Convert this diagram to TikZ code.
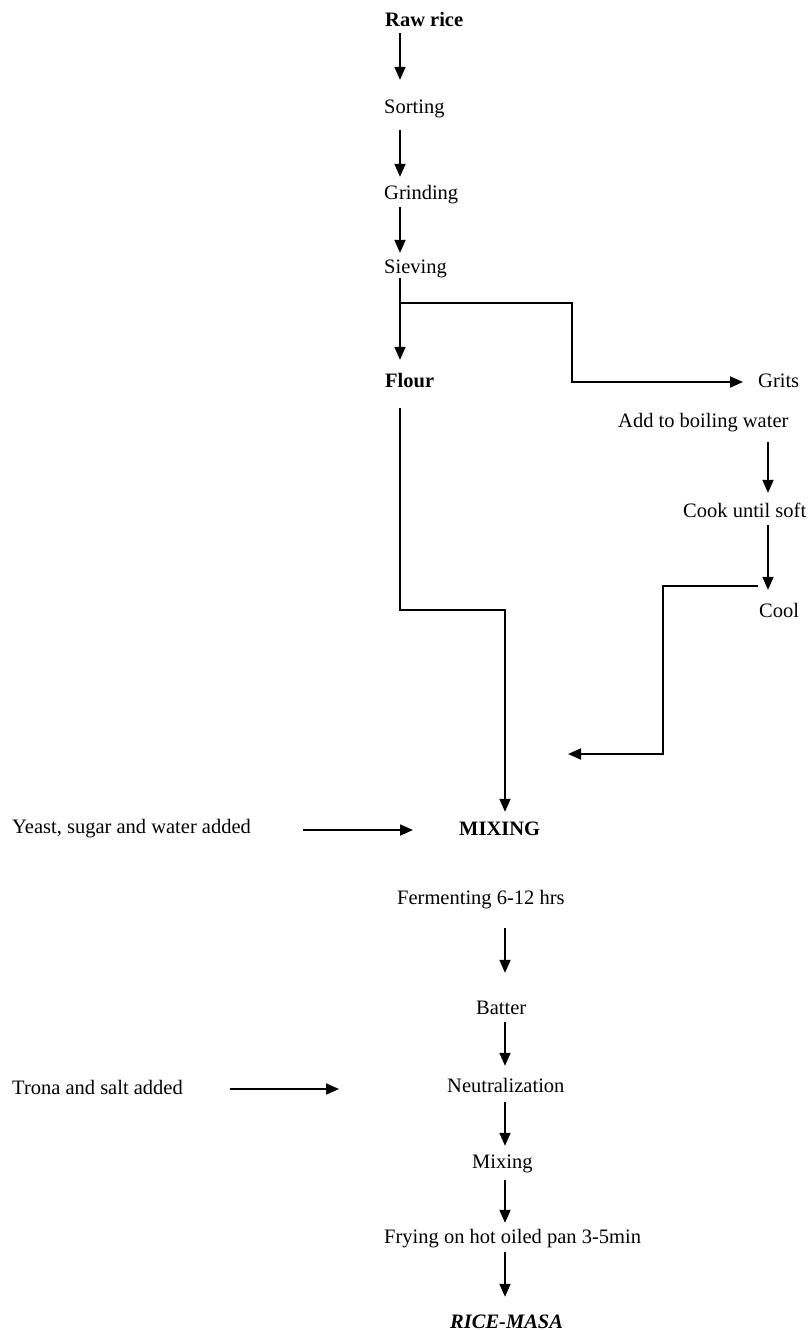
\documentclass[tikz,border=0pt]{standalone}
\usepackage{fontspec}
\setmainfont{Liberation Serif}
\usetikzlibrary{arrows.meta}
\begin{document}
\begin{tikzpicture}[x=1pt,y=-1pt,
  lbl/.style={anchor=base west,inner sep=0pt,text height=15pt,text depth=5pt,font=\fontsize{20.5}{24}\selectfont},
  blbl/.style={lbl,font=\fontsize{20.5}{24}\selectfont\bfseries},
  arr/.style={line width=1.8pt,-{Triangle[length=13pt,width=11pt]}},
  ln/.style={line width=1.8pt}]
\useasboundingbox (0,0) rectangle (811,1330);
% main column
\node[blbl] (raw)   at (385,27)  {Raw rice};
\node[lbl]  (sort)  at (384,113) {Sorting};
\node[lbl]  (grind) at (384,199) {Grinding};
\node[lbl]  (sieve) at (384,273) {Sieving};
\node[blbl] (flour) at (385,387) {Flour};
\node[lbl]  (grits) at (758,387) {Grits};
\node[lbl]  (add)   at (618,427) {Add to boiling water};
\node[lbl]  (cook)  at (683,517) {Cook until soft};
\node[lbl]  (cool)  at (759,617) {Cool};
\node[lbl]  (yeast) at (12,833)  {Yeast, sugar and water added};
\node[blbl] (mix)   at (459,835) {MIXING};
\node[lbl]  (ferm)  at (397,904) {Fermenting 6-12 hrs};
\node[lbl]  (batter) at (476,1014) {Batter};
\node[lbl]  (trona) at (12,1094) {Trona and salt added};
\node[lbl]  (neut)  at (447,1092) {Neutralization};
\node[lbl]  (mixb)  at (472,1168) {Mixing};
\node[lbl]  (fry)   at (384,1243) {Frying on hot oiled pan 3-5min};
\node[lbl,font=\fontsize{20.5}{24}\selectfont\bfseries\itshape] (rice) at (450,1328) {RICE-MASA};
\coordinate (coolend) at (568,754);

% connectors
\draw[arr] ([shift={(15,1)}]raw.south west) -- ([shift={(16,-18)}]sort.north west);
\draw[arr] ([shift={(16,12)}]sort.south west) -- ([shift={(16,-7)}]grind.north west);
\draw[arr] ([shift={(16,3)}]grind.south west) -- ([shift={(16,-5)}]sieve.north west);
\draw[arr] ([shift={(16,0)}]sieve.south west) -- ([shift={(15,-12)}]flour.north west);
\draw[arr] ([shift={(16,25)}]sieve.south west) -- ++(172,0) |- ([shift={(-15,-5)}]grits.base west);
\draw[arr] ([shift={(150,10)}]add.south west) -- ([shift={(85,-9)}]cook.north west);
\draw[arr] ([shift={(85,3)}]cook.south west) -- ([shift={(9,-12)}]cool.north west);
\draw[arr] ([shift={(-1,-16)}]cool.north west) -- ++(-95,0) |- (coolend);
\draw[arr] ([shift={(15,16)}]flour.south west) -- ++(0,202) -| ([shift={(46,-8)}]mix.north west);
\draw[arr] ([shift={(52,-3)}]yeast.base east) -- ([shift={(-46,-5)}]mix.base west);
\draw[arr] ([shift={(108,19)}]ferm.south west) -- ([shift={(29,-26)}]batter.north west);
\draw[arr] ([shift={(29,3)}]batter.south west) -- ([shift={(58,-11)}]neut.north west);
\draw[arr] ([shift={(47,-5)}]trona.base east) -- ([shift={(-108,-3)}]neut.base west);
\draw[arr] ([shift={(58,5)}]neut.south west) -- ([shift={(33,-7)}]mixb.north west);
\draw[arr] ([shift={(33,7)}]mixb.south west) -- ([shift={(121,-5)}]fry.north west);
\draw[arr] ([shift={(121,4)}]fry.south west) -- ([shift={(55,-16)}]rice.north west);
\end{tikzpicture}
\end{document}
